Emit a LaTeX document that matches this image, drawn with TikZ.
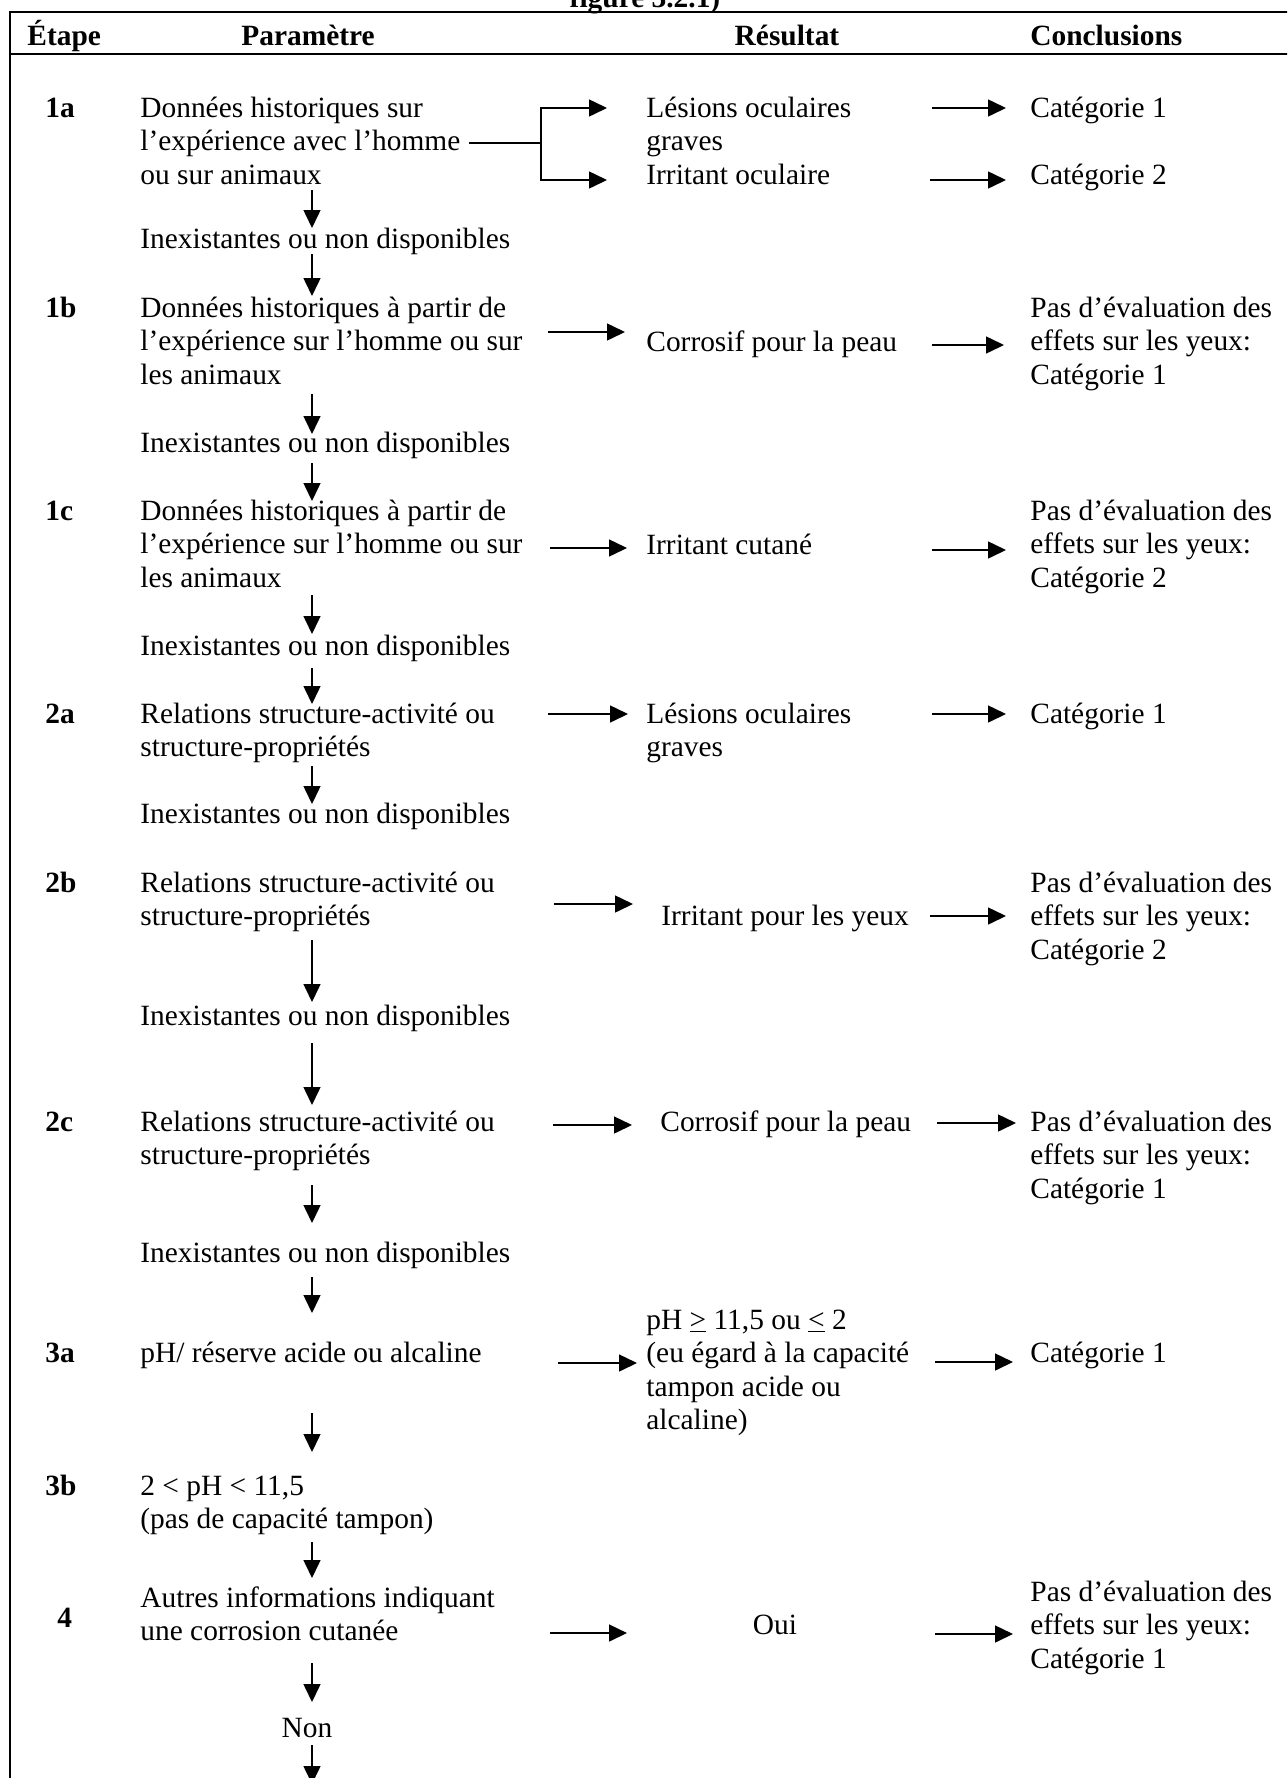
\documentclass[tikz,border=0pt]{standalone}
\usepackage{fontspec}
\setmainfont{Liberation Serif}
\usetikzlibrary{arrows.meta}
\begin{document}
\begin{tikzpicture}[x=0.5pt,y=-0.5pt,
  txt/.style={anchor=base west, align=left, inner sep=0pt, font=\fontsize{14.7}{16.8}\selectfont},
  ctxt/.style={anchor=base, inner sep=0pt, font=\fontsize{14.7}{16.8}\selectfont},
  hdr/.style={anchor=base, inner sep=0pt, font=\fontsize{14.7}{16.8}\selectfont\bfseries},
  stp/.style={anchor=base west, inner sep=0pt, font=\fontsize{14.7}{16.8}\selectfont\bfseries},
  arr/.style={-{Triangle[length=9pt,width=8.5pt]}, line width=0.75pt},
  ln/.style={line width=0.75pt},
  frm/.style={line width=1pt}]
\useasboundingbox (0,0) rectangle (1287,1778);
\clip (0,0) rectangle (1287,1778);

% title fragment and frame
\node[hdr] (title) at (645,7) {figure 3.2.1)};
\coordinate (tl) at (10,12);
\coordinate (tr) at (1300,12);
\coordinate (hl) at (10,54);
\coordinate (hr) at (1300,54);
\coordinate (bl) at (10,1790);
\draw[frm] (tr) -- (tl) -- (bl);
\draw[frm] (hl) -- (hr);

% header
\node[stp] (hEtape) at (27,45) {Étape};
\node[hdr] (hParam) at (308,45) {Paramètre};
\node[hdr] (hRes) at (787,45) {Résultat};
\node[stp] (hConc) at (1030,45) {Conclusions};

% step labels
\node[stp] (s1a) at (45,117) {1a};
\node[stp] (s1b) at (45,317) {1b};
\node[stp] (s1c) at (45,520) {1c};
\node[stp] (s2a) at (45,723) {2a};
\node[stp] (s2b) at (45,892) {2b};
\node[stp] (s2c) at (45,1131) {2c};
\node[stp] (s3a) at (45,1362) {3a};
\node[stp] (s3b) at (45,1495) {3b};
\node[stp] (s4) at (57,1627) {4};

% parameter column (base = baseline of the last line)
\node[txt] (p1a) at (140,184.2) {Données historiques sur\\l’expérience avec l’homme\\ou sur animaux};
\node[txt] (n1) at (140,248) {Inexistantes ou non disponibles};
\node[txt] (p1b) at (140,384.2) {Données historiques à partir de\\l’expérience sur l’homme ou sur\\les animaux};
\node[txt] (n2) at (140,452) {Inexistantes ou non disponibles};
\node[txt] (p1c) at (140,587.2) {Données historiques à partir de\\l’expérience sur l’homme ou sur\\les animaux};
\node[txt] (n3) at (140,655) {Inexistantes ou non disponibles};
\node[txt] (p2a) at (140,756.6) {Relations structure-activité ou\\structure-propriétés};
\node[txt] (n4) at (140,823) {Inexistantes ou non disponibles};
\node[txt] (p2b) at (140,925.6) {Relations structure-activité ou\\structure-propriétés};
\node[txt] (n5) at (140,1025) {Inexistantes ou non disponibles};
\node[txt] (p2c) at (140,1164.6) {Relations structure-activité ou\\structure-propriétés};
\node[txt] (n6) at (140,1262) {Inexistantes ou non disponibles};
\node[txt] (p3a) at (140,1362) {pH/ réserve acide ou alcaline};
\node[txt] (p3b) at (140,1528.6) {2 < pH < 11,5\\(pas de capacité tampon)};
\node[txt] (p4) at (140,1640.6) {Autres informations indiquant\\une corrosion cutanée};
\node[ctxt] (non) at (307,1737) {Non};

% result column
\node[txt] (r1a) at (646,150.6) {Lésions oculaires\\graves};
\node[txt] (r1a2) at (646,184) {Irritant oculaire};
\node[txt] (r1b) at (646,351) {Corrosif pour la peau};
\node[txt] (r1c) at (646,554) {Irritant cutané};
\node[txt] (r2a) at (646,756.6) {Lésions oculaires\\graves};
\node[txt] (r2b) at (661,925) {Irritant pour les yeux};
\node[txt] (r2c) at (660,1131) {Corrosif pour la peau};
\node[txt] (r3a) at (646,1429.8) {pH \underline{>} 11,5 ou \underline{<} 2\\(eu égard à la capacité\\tampon acide ou\\alcaline)};
\node[ctxt] (r4) at (775,1634) {Oui};

% conclusions column
\node[txt] (c1a) at (1030,117) {Catégorie 1};
\node[txt] (c1a2) at (1030,184) {Catégorie 2};
\node[txt] (c1b) at (1030,384.2) {Pas d’évaluation des\\effets sur les yeux:\\Catégorie 1};
\node[txt] (c1c) at (1030,587.2) {Pas d’évaluation des\\effets sur les yeux:\\Catégorie 2};
\node[txt] (c2a) at (1030,723) {Catégorie 1};
\node[txt] (c2b) at (1030,959.2) {Pas d’évaluation des\\effets sur les yeux:\\Catégorie 2};
\node[txt] (c2c) at (1030,1198.2) {Pas d’évaluation des\\effets sur les yeux:\\Catégorie 1};
\node[txt] (c3a) at (1030,1362) {Catégorie 1};
\node[txt] (c4) at (1030,1668.2) {Pas d’évaluation des\\effets sur les yeux:\\Catégorie 1};

% 1a bracket
\coordinate (b1s) at (469,143);
\coordinate (b1j) at (541,143);
\coordinate (b1u) at (607,108);
\coordinate (b1d) at (607,180);
\draw[ln] (b1s) -- (b1j);
\draw[arr] (b1j) |- (b1u);
\draw[arr] (b1j) |- (b1d);

% horizontal arrows (name, tail x, tip x, y)
\newcommand\harr[4]{\coordinate (#1t) at (#2,#4); \coordinate (#1h) at (#3,#4); \draw[arr] (#1t) -- (#1h);}
\harr{k1a}{932}{1006}{108}
\harr{k1a2}{930}{1006}{180}
\harr{h1b}{548}{625}{332}
\harr{k1b}{932}{1004}{345}
\harr{h1c}{550}{627}{548}
\harr{k1c}{932}{1006}{550}
\harr{h2a}{548}{628}{714}
\harr{k2a}{932}{1006}{714}
\harr{h2b}{554}{633}{904}
\harr{k2b}{930}{1006}{916}
\harr{h2c}{553}{632}{1125}
\harr{k2c}{937}{1016}{1123}
\harr{h3a}{558}{637}{1363}
\harr{k3a}{935}{1013}{1362}
\harr{h4}{550}{627}{1633}
\harr{k4}{935}{1013}{1634}

% vertical arrows (name, tail y, tip y)
\newcommand\varr[3]{\coordinate (#1t) at (312,#2); \coordinate (#1h) at (312,#3); \draw[arr] (#1t) -- (#1h);}
\varr{v1}{190}{228}
\varr{v2}{254}{296}
\varr{v3}{394}{434}
\varr{v4}{463}{501}
\varr{v5}{595}{634}
\varr{v6}{668}{704}
\varr{v7}{766}{804}
\varr{v8}{940}{1002}
\varr{v9}{1043}{1105}
\varr{v10}{1185}{1223}
\varr{v11}{1277}{1313}
\varr{v12}{1413}{1452}
\varr{v13}{1542}{1578}
\varr{v14}{1663}{1702}
\varr{v15}{1745}{1784}
\end{tikzpicture}
\end{document}
